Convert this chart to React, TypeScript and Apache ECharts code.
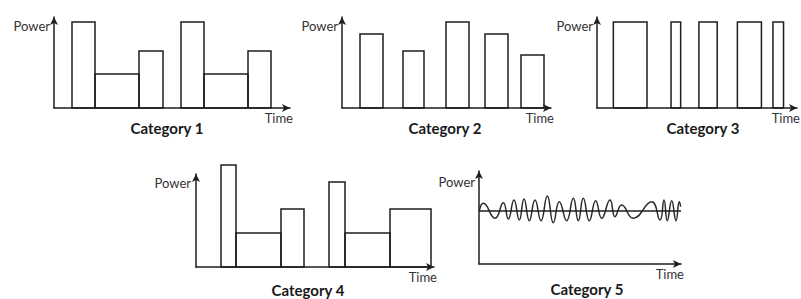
import React, { useEffect, useRef } from 'react';
import * as echarts from 'echarts';

// ---- Data ----
const panelTitles = ['Category 1', 'Category 2', 'Category 3', 'Category 4', 'Category 5'];
const yAxisName = 'Power';
const xAxisName = 'Time';

// Each block: [start time, end time, power level]
const cat1Blocks = [
  [1.8, 4.1, 8.6],
  [4.1, 8.5, 3.4],
  [8.5, 10.9, 5.7],
  [12.7, 15.0, 8.6],
  [15.0, 19.4, 3.4],
  [19.4, 21.7, 5.7],
];
const cat2Blocks = [
  [1.8, 4.1, 7.4],
  [6.1, 8.2, 5.7],
  [10.4, 12.7, 8.6],
  [14.3, 16.6, 7.4],
  [17.9, 20.2, 5.3],
];
const cat3Blocks = [
  [1.7, 5.2, 8.6],
  [7.7, 8.7, 8.6],
  [10.6, 12.5, 8.6],
  [14.6, 17.1, 8.6],
  [18.3, 19.4, 8.6],
];
const cat4Blocks = [
  [2.5, 4.0, 10.2],
  [4.0, 8.5, 3.4],
  [8.5, 10.8, 5.8],
  [13.3, 14.9, 8.5],
  [14.9, 19.4, 3.4],
  [19.4, 23.5, 5.8],
];
const cat5Mean = 5.3;
const cat5Time = [
  0.03, 0.43, 1.6, 2.43, 2.93, 3.5, 4.03, 4.5, 5.03, 5.6, 6.2, 6.83, 7.43, 8.03, 8.77,
  9.43, 9.93, 10.43, 11.03, 11.67, 12.27, 13.1, 13.6, 14.27, 15.43, 17.27, 18.1, 18.5,
  18.83, 19.27, 19.7, 20.03, 20.17,
];
const cat5Power = [
  5.3, 6.07, 4.57, 6.13, 4.5, 6.4, 4.4, 6.5, 4.33, 6.4, 4.33, 6.8, 4.13, 6.23, 4.33,
  6.57, 4.33, 6.57, 4.33, 6.33, 4.57, 6.4, 4.73, 5.9, 4.57, 6.23, 4.4, 6.4,
  4.33, 6.33, 4.33, 6.23, 5.73,
];

// Axis ranges per panel
const xMax = [23.6, 20.9, 20.8, 23.8, 20.2];
const yMax = [9.1, 9.1, 9.1, 9.3, 9.3];

// ---- Layout ----
const grids = [
  { left: 54, top: 17, width: 236, height: 91 },
  { left: 342, top: 17, width: 209, height: 91 },
  { left: 597, top: 17, width: 208, height: 91 },
  { left: 196, top: 174, width: 238, height: 93 },
  { left: 479, top: 171, width: 202, height: 93 },
];
const powerNameGap = [-9, -9, -9, -9, -11];
const powerPadRight = [4, 4, 4, 5, 4];
const titlePos = [
  [167, 128],
  [445, 128],
  [703, 128],
  [308, 290],
  [587, 289],
];

const INK = '#1e1e1e';
const TEXT = '#333333';
const FONT = 'Lato, "Open Sans", sans-serif';

export default function App() {
  const ref = useRef<HTMLDivElement>(null);

  useEffect(() => {
    if (!ref.current) return;
    const chart = echarts.init(ref.current, null, { renderer: 'svg' });

    const renderBlock = (params: any, api: any) => {
      const x0 = api.value(0);
      const x1 = api.value(1);
      const h = api.value(2);
      const p0 = api.coord([x0, 0]);
      const p1 = api.coord([x1, h]);
      return {
        type: 'rect',
        shape: { x: p0[0], y: p1[1], width: p1[0] - p0[0], height: p0[1] - p1[1] },
        style: { fill: 'none', stroke: INK, lineWidth: 1.5 },
      };
    };

    const blockSets = [cat1Blocks, cat2Blocks, cat3Blocks, cat4Blocks];

    const axisLine = {
      show: true,
      onZero: false,
      symbol: ['none', 'arrow'],
      symbolSize: [6, 8],
      lineStyle: { color: INK, width: 1.5 },
    };

    const option: any = {
      animation: false,
      backgroundColor: '#ffffff',
      grid: grids.map((g) => ({ ...g, containLabel: false })),
      xAxis: grids.map((_, i) => ({
        gridIndex: i,
        type: 'value',
        min: 0,
        max: xMax[i],
        axisLine,
        axisTick: { show: false },
        axisLabel: { show: false },
        splitLine: { show: false },
        name: xAxisName,
        nameLocation: 'end',
        nameGap: 3,
        nameTextStyle: {
          align: 'right',
          verticalAlign: 'top',
          padding: [3, 0, 0, 0],
          fontSize: 13,
          fontFamily: FONT,
          color: TEXT,
        },
      })),
      yAxis: grids.map((_, i) => ({
        gridIndex: i,
        type: 'value',
        min: 0,
        max: yMax[i],
        axisLine,
        axisTick: { show: false },
        axisLabel: { show: false },
        splitLine: { show: false },
        name: yAxisName,
        nameLocation: 'end',
        nameGap: powerNameGap[i],
        nameTextStyle: {
          align: 'right',
          verticalAlign: 'middle',
          padding: [0, powerPadRight[i], 0, 0],
          fontSize: 13,
          fontFamily: FONT,
          color: TEXT,
        },
      })),
      series: [
        ...blockSets.map((blocks, i) => ({
          type: 'custom',
          xAxisIndex: i,
          yAxisIndex: i,
          data: blocks,
          encode: { x: [0, 1], y: 2 },
          renderItem: renderBlock,
          clip: false,
          silent: true,
        })),
        {
          type: 'line',
          xAxisIndex: 4,
          yAxisIndex: 4,
          data: cat5Time.map((t, k) => [t, cat5Power[k]]),
          smooth: 0.5,
          showSymbol: false,
          symbol: 'none',
          lineStyle: { color: '#2a2a2a', width: 1.5 },
          silent: true,
        },
        {
          type: 'line',
          xAxisIndex: 4,
          yAxisIndex: 4,
          data: [
            [0, cat5Mean],
            [xMax[4], cat5Mean],
          ],
          showSymbol: false,
          symbol: 'none',
          lineStyle: { color: INK, width: 1.5 },
          silent: true,
        },
      ],
      graphic: panelTitles.map((t, i) => ({
        type: 'text',
        x: titlePos[i][0],
        y: titlePos[i][1],
        style: {
          text: t,
          fill: '#1a1a1a',
          fontSize: 15,
          fontWeight: 'bold',
          fontFamily: FONT,
          align: 'center',
          verticalAlign: 'middle',
        },
      })),
    };

    chart.setOption(option);
    return () => chart.dispose();
  }, []);

  return (
    <div
      ref={ref}
      style={{ position: 'absolute', left: 0, top: 0, width: 801, height: 299 }}
    />
  );
}
